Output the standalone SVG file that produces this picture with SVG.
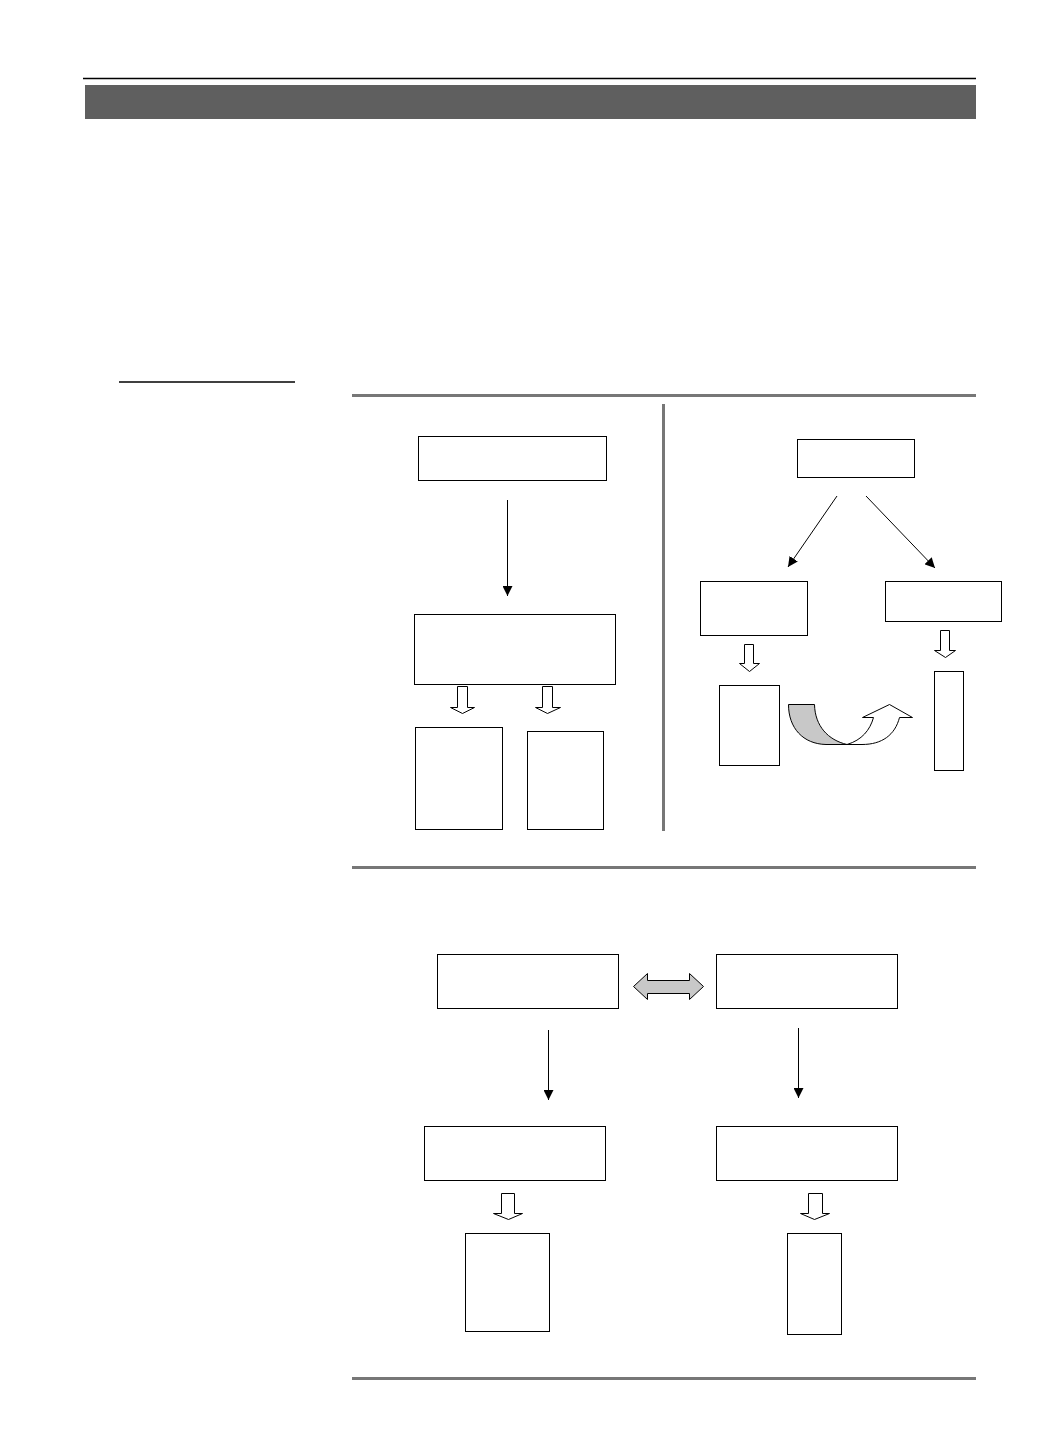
<svg xmlns="http://www.w3.org/2000/svg" width="1041" height="1444" viewBox="0 0 1041 1444">
<style>
.box{fill:#fff;stroke:#000;stroke-width:1}
.hollow{fill:#fff;stroke:#000;stroke-width:1;stroke-linejoin:miter}
.conn{stroke:#000;stroke-width:1;fill:none;marker-end:url(#ah)}
.sep{stroke:#777;stroke-width:3;fill:none}
</style>
<defs>
<marker id="ah" viewBox="0 0 10 10" refX="10" refY="5" markerWidth="10" markerHeight="10" markerUnits="userSpaceOnUse" orient="auto">
<path d="M0,0 L10,5 L0,10 Z" fill="#000"/>
</marker>
</defs>
<rect width="1041" height="1444" fill="#fff"/>
<g id="header">
<line x1="83" y1="78.5" x2="976" y2="78.5" stroke="#000" stroke-width="1.5"/>
<rect x="85" y="85" width="891" height="34" fill="#5f5f5f"/>
<line x1="119" y1="382" x2="295" y2="382" stroke="#000" stroke-width="1.5"/>
</g>
<g id="separators">
<line class="sep" x1="352" y1="395.5" x2="976" y2="395.5"/>
<line class="sep" x1="663.5" y1="404" x2="663.5" y2="831"/>
<line class="sep" x1="352" y1="867.5" x2="976" y2="867.5"/>
<line class="sep" x1="352" y1="1378.5" x2="976" y2="1378.5"/>
</g>
<g id="boxA"><rect class="box" x="418.5" y="436.5" width="188" height="44"/></g>
<g id="boxB"><rect class="box" x="414.5" y="614.5" width="201" height="70"/></g>
<g id="boxC"><rect class="box" x="415.5" y="727.5" width="87" height="102"/></g>
<g id="boxD"><rect class="box" x="527.5" y="731.5" width="76" height="98"/></g>
<g id="boxE"><rect class="box" x="797.5" y="439.5" width="117" height="38"/></g>
<g id="boxF"><rect class="box" x="700.5" y="581.5" width="107" height="54"/></g>
<g id="boxG"><rect class="box" x="885.5" y="581.5" width="116" height="40"/></g>
<g id="boxH"><rect class="box" x="719.5" y="685.5" width="60" height="80"/></g>
<g id="boxI"><rect class="box" x="934.5" y="671.5" width="29" height="99"/></g>
<g id="boxJ"><rect class="box" x="437.5" y="954.5" width="181" height="54"/></g>
<g id="boxK"><rect class="box" x="716.5" y="954.5" width="181" height="54"/></g>
<g id="boxL"><rect class="box" x="424.5" y="1126.5" width="181" height="54"/></g>
<g id="boxM"><rect class="box" x="716.5" y="1126.5" width="181" height="54"/></g>
<g id="boxN"><rect class="box" x="465.5" y="1233.5" width="84" height="98"/></g>
<g id="boxO"><rect class="box" x="787.5" y="1233.5" width="54" height="101"/></g>
<g id="connectors">
<line class="conn" x1="507.5" y1="500" x2="507.5" y2="596"/>
<line class="conn" x1="837" y1="496" x2="788" y2="567"/>
<line class="conn" x1="866" y1="496" x2="935" y2="568"/>
<line class="conn" x1="548.5" y1="1030" x2="548.5" y2="1100"/>
<line class="conn" x1="798.5" y1="1028" x2="798.5" y2="1098"/>
<path class="hollow" d="M457.5,686.5 H467.5 V707.5 H474.5 L462.5,713.5 L450.5,707.5 H457.5 Z"/>
<path class="hollow" d="M542.5,686.5 H552.5 V707.5 H560.5 L547.5,713.5 L535.5,707.5 H542.5 Z"/>
<path class="hollow" d="M744.5,644.5 H753.5 V663.5 H759.5 L749.5,671.5 L739.5,663.5 H744.5 Z"/>
<path class="hollow" d="M940.5,630.5 H949.5 V650.5 H955.5 L945.5,657.5 L934.5,650.5 H940.5 Z"/>
<path class="hollow" d="M501.5,1193.5 H514.5 V1213.5 H522.5 L508.5,1219.5 L493.5,1213.5 H501.5 Z"/>
<path class="hollow" d="M808.5,1193.5 H822.5 V1213.5 H829.5 L814.5,1219.5 L800.5,1213.5 H808.5 Z"/>
<path d="M633.5,986.5 L647.5,973.5 V980.5 H689.5 V973.5 L703.5,986.5 L689.5,999.5 V993.5 H647.5 V999.5 Z" fill="#c8c8c8" stroke="#000" stroke-width="1"/>
<path d="M788.5,704.5 H814.5 C815,726 828,740 847,744.5 H826 C803,744 788.5,728 788.5,704.5 Z" fill="#c8c8c8" stroke="#000" stroke-width="1"/>
<path d="M847,744.5 C862,740 870,730 873.5,717.5 H862.5 L889.5,704.5 L912.5,717.5 H899.5 C895,735 882,744.5 862,744.5 Z" fill="#fff" stroke="#000" stroke-width="1"/>
</g>
</svg>
